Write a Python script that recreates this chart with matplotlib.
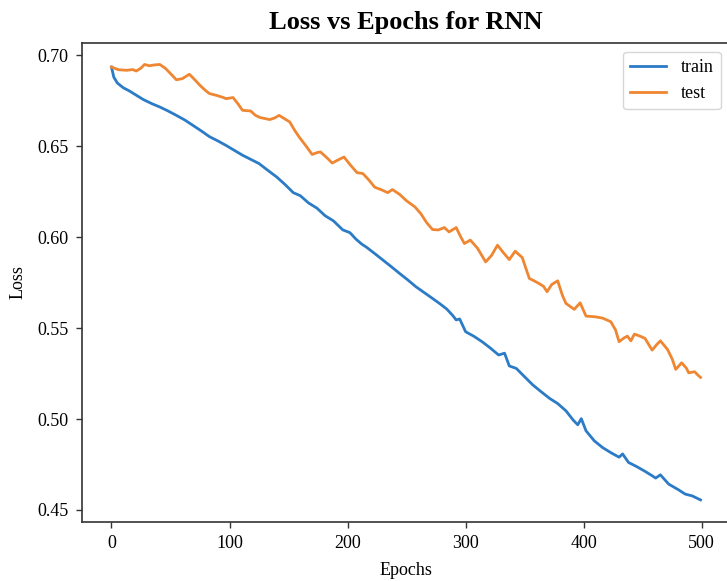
import matplotlib

matplotlib.use("Agg")

import matplotlib.pyplot as plt


# values (epoch, loss)
train_epochs = [
    0, 2, 5, 10, 15, 20, 27, 34, 41, 48, 55, 62, 69, 76, 83, 90, 97,
    104, 111, 118, 125, 132, 140, 147, 154, 160, 167, 174, 181, 188,
    196, 202, 207, 212, 216, 223, 230, 237, 244, 251, 258, 265, 272,
    278, 284, 289, 292, 295, 300, 307, 314, 321, 328, 333, 337, 343,
    350, 357, 364, 371, 378, 385, 391, 395, 398, 402, 409, 416, 423,
    430, 433, 438, 445, 452, 458, 461, 465, 472, 480, 486, 492, 499,
]

train_loss = [
    0.6936, 0.6880, 0.6848, 0.6822, 0.6805, 0.6785, 0.6757, 0.6735,
    0.6716, 0.6694, 0.6670, 0.6645, 0.6615, 0.6585, 0.6553, 0.6530,
    0.6505, 0.6478, 0.6451, 0.6428, 0.6405, 0.6370, 0.6331, 0.6290,
    0.6245, 0.6228, 0.6188, 0.6160, 0.6118, 0.6090, 0.6040, 0.6025,
    0.5990, 0.5962, 0.5945, 0.5910, 0.5874, 0.5838, 0.5801, 0.5765,
    0.5727, 0.5695, 0.5663, 0.5635, 0.5605, 0.5570, 0.5545, 0.5550,
    0.5480, 0.5455, 0.5425, 0.5390, 0.5352, 0.5362, 0.5292, 0.5278,
    0.5232, 0.5187, 0.5150, 0.5114, 0.5085, 0.5045, 0.4995, 0.4968,
    0.5002, 0.4935, 0.4880, 0.4843, 0.4815, 0.4790, 0.4808, 0.4761,
    0.4738, 0.4712, 0.4688, 0.4675, 0.4693, 0.4642, 0.4612, 0.4587,
    0.4577, 0.4555,
]

test_epochs = [
    0, 6, 13, 18, 21, 25, 28, 32, 37, 41, 46, 50, 55, 60, 66, 70, 75,
    80, 83, 89, 94, 97, 103, 107, 111, 118, 122, 126, 134, 138, 142,
    147, 151, 155, 159, 165, 170, 174, 177, 182, 187, 192, 197, 202,
    208, 213, 218, 223, 229, 234, 238, 244, 250, 257, 262, 267, 272,
    277, 282, 286, 292, 296, 299, 304, 310, 317, 322, 327, 332, 337,
    342, 348, 351, 354, 358, 362, 366, 369, 373, 378, 382, 385, 392,
    397, 402, 410, 416, 423, 427, 430, 434, 437, 440, 443, 448, 452,
    456, 458, 462, 465, 471, 475, 478, 483, 487, 489, 494, 497, 499,
]

test_loss = [
    0.6936, 0.6921, 0.6918, 0.6922, 0.6914, 0.6930, 0.6950, 0.6943,
    0.6948, 0.6950, 0.6927, 0.6900, 0.6866, 0.6872, 0.6896, 0.6870,
    0.6835, 0.6805, 0.6790, 0.6780, 0.6770, 0.6762, 0.6768, 0.6735,
    0.6698, 0.6694, 0.6670, 0.6658, 0.6647, 0.6655, 0.6670, 0.6650,
    0.6634, 0.6590, 0.6551, 0.6500, 0.6455, 0.6465, 0.6469, 0.6440,
    0.6408, 0.6425, 0.6441, 0.6400, 0.6355, 0.6350, 0.6315, 0.6275,
    0.6260, 0.6245, 0.6262, 0.6236, 0.6200, 0.6167, 0.6130, 0.6080,
    0.6042, 0.6040, 0.6053, 0.6029, 0.6053, 0.6000, 0.5965, 0.5984,
    0.5940, 0.5864, 0.5900, 0.5956, 0.5915, 0.5877, 0.5923, 0.5888,
    0.5830, 0.5773, 0.5760, 0.5746, 0.5730, 0.5700, 0.5740, 0.5760,
    0.5680, 0.5636, 0.5603, 0.5639, 0.5566, 0.5562, 0.5555, 0.5535,
    0.5490, 0.5425, 0.5445, 0.5456, 0.5430, 0.5467, 0.5455, 0.5443,
    0.5400, 0.5379, 0.5410, 0.5430, 0.5383, 0.5330, 0.5273, 0.5309,
    0.5280, 0.5254, 0.5260, 0.5240, 0.5229,
]


def plot_loss_curves(save_path=None):
    plt.rcParams["font.family"] = ["Liberation Serif", "DejaVu Serif"]

    fig = plt.figure(figsize=(7.27, 5.81), dpi=100)
    ax = fig.add_axes([0.1128, 0.1021, 0.8913, 0.8244])

    ax.plot(
        train_epochs,
        train_loss,
        color="#2b7bc6",
        linewidth=2.0,
        label="train",
    )

    ax.plot(
        test_epochs,
        test_loss,
        color="#ef8632",
        linewidth=2.0,
        label="test",
    )

    ax.set_title(
        "Loss vs Epochs for RNN",
        fontsize=19,
        fontweight="bold",
        pad=10,
    )

    ax.set_xlabel("Epochs", fontsize=13, labelpad=7)
    ax.set_ylabel("Loss", fontsize=13, labelpad=8)

    ax.set_xticks([0, 100, 200, 300, 400, 500])
    ax.set_yticks([0.45, 0.50, 0.55, 0.60, 0.65, 0.70])
    ax.tick_params(
        labelsize=13,
        width=1.0,
        length=4.5,
        pad=5,
        color="#333333",
    )

    for spine in ax.spines.values():
        spine.set_linewidth(1.2)
        spine.set_color("#333333")

    ax.legend(loc="upper right", fontsize=13)

    if save_path:
        fig.savefig(save_path, dpi=100)

    return fig


plot_loss_curves("out.png")
